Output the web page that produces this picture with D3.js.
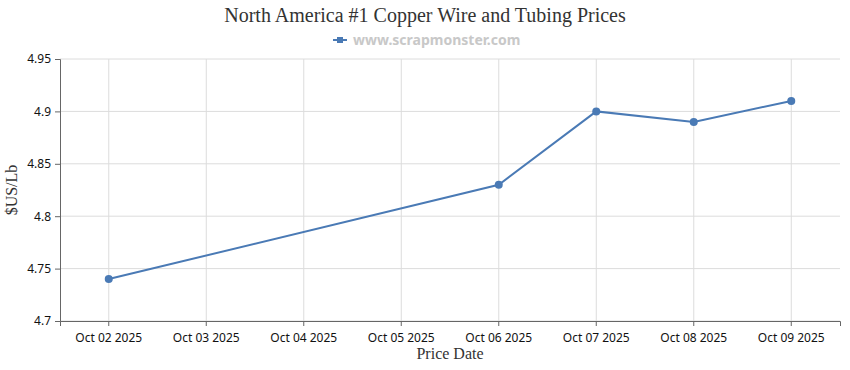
<!DOCTYPE html>
<html>
<head>
<meta charset="utf-8">
<script src="https://cdn.jsdelivr.net/npm/d3@7"></script>
<style>
  body { margin: 0; background: #fff; }
  .tick text { font-family: "Noto Sans", sans-serif; font-size: 12px; fill: #111; }
</style>
</head>
<body>
<div id="chart"></div>
<script>
// data
var dates = ["Oct 02 2025", "Oct 03 2025", "Oct 04 2025", "Oct 05 2025",
             "Oct 06 2025", "Oct 07 2025", "Oct 08 2025", "Oct 09 2025"];
var priceDates = ["Oct 02 2025", "Oct 06 2025", "Oct 07 2025", "Oct 08 2025", "Oct 09 2025"];
var prices = [4.74, 4.83, 4.90, 4.89, 4.91];
var yTicks = [4.7, 4.75, 4.8, 4.85, 4.9, 4.95];

var svgWidth = 850;
var svgHeight = 370;
var margin = { top: 59, right: 10, bottom: 49, left: 60 };
var width = svgWidth - margin.left - margin.right;
var height = svgHeight - margin.top - margin.bottom;

var svg = d3.select("#chart")
    .append("svg")
    .attr("width", svgWidth)
    .attr("height", svgHeight);

var chartGroup = svg.append("g")
    .attr("transform", `translate(${margin.left}, ${margin.top})`);

var xScale = d3.scaleBand()
    .domain(dates)
    .range([0, width])
    .padding(0);

var yScale = d3.scaleLinear()
    .domain([4.7, 4.95])
    .range([height, 0]);

var xc = d => xScale(d) + xScale.bandwidth() / 2;

// grid
chartGroup.append("g")
    .selectAll("line")
    .data(yTicks)
    .enter()
    .append("line")
    .attr("x1", 0)
    .attr("x2", width)
    .attr("y1", d => yScale(d))
    .attr("y2", d => yScale(d))
    .attr("stroke", "#dcdcdc");

chartGroup.append("g")
    .selectAll("line")
    .data(dates)
    .enter()
    .append("line")
    .attr("x1", d => xc(d))
    .attr("x2", d => xc(d))
    .attr("y1", 0)
    .attr("y2", height)
    .attr("stroke", "#dcdcdc");

// axes
var bottomAxis = d3.axisBottom(xScale).tickSizeOuter(0).tickSize(5).tickPadding(7);
var leftAxis = d3.axisLeft(yScale).tickValues(yTicks).tickFormat(d3.format("")).tickSizeOuter(0).tickSize(5).tickPadding(4);

var xAxis = chartGroup.append("g")
    .attr("transform", `translate(0, ${height})`)
    .call(bottomAxis);

var yAxis = chartGroup.append("g")
    .call(leftAxis);

[xAxis, yAxis].forEach(function(a) {
    a.select(".domain").attr("stroke", "#666");
    a.selectAll(".tick line").attr("stroke", "#666");
});

// line
var points = priceDates.map((d, i) => ({ date: d, price: prices[i] }));

var line = d3.line()
    .x(d => xc(d.date))
    .y(d => yScale(d.price));

chartGroup.append("path")
    .datum(points)
    .attr("d", line)
    .attr("fill", "none")
    .attr("stroke", "#4a7ab5")
    .attr("stroke-width", 2);

chartGroup.selectAll("circle")
    .data(points)
    .enter()
    .append("circle")
    .attr("cx", d => xc(d.date))
    .attr("cy", d => yScale(d.price))
    .attr("r", 4)
    .attr("fill", "#4a7ab5");

// titles
svg.append("text")
    .attr("x", 425)
    .attr("y", 22)
    .attr("text-anchor", "middle")
    .attr("font-family", "'Liberation Serif', serif")
    .attr("font-size", "20px")
    .attr("fill", "#333")
    .text("North America #1 Copper Wire and Tubing Prices");

// legend
var legend = svg.append("g").attr("transform", "translate(333, 40)");
legend.append("line")
    .attr("x1", 0).attr("x2", 14)
    .attr("y1", 0).attr("y2", 0)
    .attr("stroke", "#4a7ab5")
    .attr("stroke-width", 2);
legend.append("rect")
    .attr("x", 4).attr("y", -3)
    .attr("width", 6).attr("height", 6)
    .attr("fill", "#4a7ab5");
legend.append("text")
    .attr("x", 20)
    .attr("y", 5)
    .attr("font-family", "'Noto Sans', sans-serif")
    .attr("font-size", "14px")
    .attr("font-weight", "bold")
    .attr("fill", "#c8c8c8")
    .text("www.scrapmonster.com");

// axis titles
svg.append("text")
    .attr("transform", "rotate(-90)")
    .attr("x", -190)
    .attr("y", 17)
    .attr("text-anchor", "middle")
    .attr("font-family", "'Liberation Serif', serif")
    .attr("font-size", "16px")
    .attr("fill", "#333")
    .text("$US/Lb");

svg.append("text")
    .attr("x", 450)
    .attr("y", 359)
    .attr("text-anchor", "middle")
    .attr("font-family", "'Liberation Serif', serif")
    .attr("font-size", "16px")
    .attr("fill", "#333")
    .text("Price Date");
</script>
</body>
</html>
